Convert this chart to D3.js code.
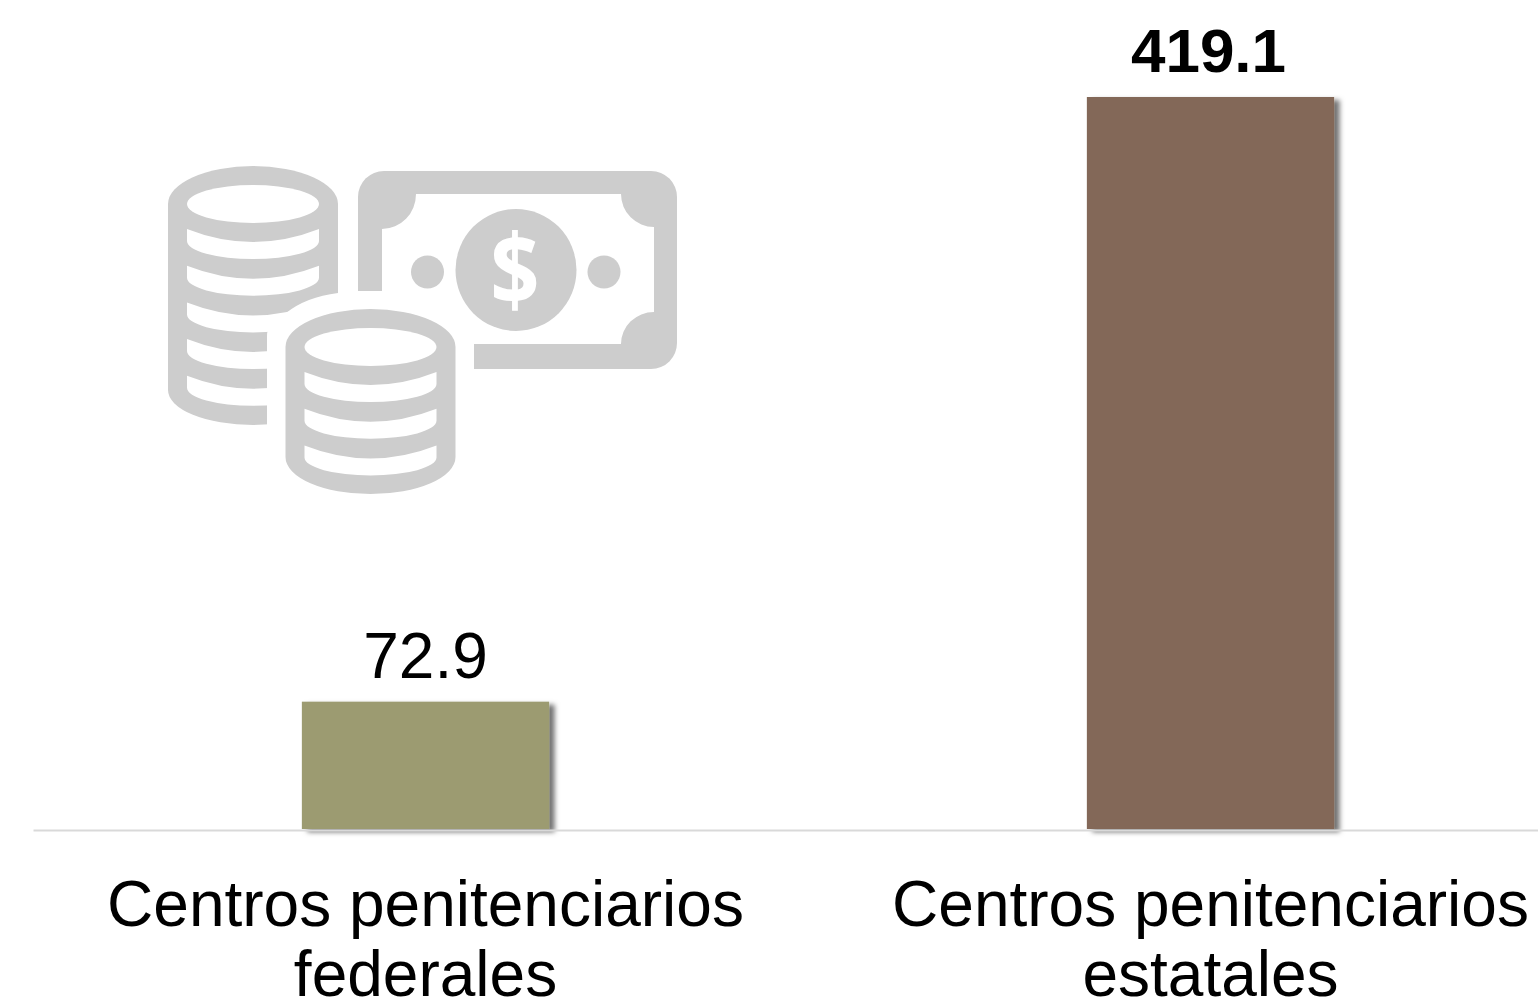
<!DOCTYPE html>
<html>
<head>
<meta charset="utf-8">
<script src="https://cdnjs.cloudflare.com/ajax/libs/d3/7.8.5/d3.min.js"></script>
<style>
  html, body { margin: 0; padding: 0; background: #fff; overflow: hidden; }
  text { font-family: "Liberation Sans", Arial, sans-serif; fill: #000; }
</style>
</head>
<body>
<svg width="1538" height="1000"></svg>
<script>
var categories = ["Centros penitenciarios federales", "Centros penitenciarios estatales"];
var categoryLines = [["Centros penitenciarios", "federales"], ["Centros penitenciarios", "estatales"]];
var values = [72.9, 419.1];
var valueLabels = ["72.9", "419.1"];
var barColors = ["#9c9b71", "#836858"];
var labelWeights = ["normal", "bold"];
var labelSizes = [64, 62];

var svg = d3.select("svg");
var baseline = 829;

var x = d3.scaleBand().domain(categories).range([33, 1603]).paddingInner(0.685).paddingOuter(0.3425);
var y = d3.scaleLinear().domain([0, 419.1]).range([baseline, 97]);

var defs = svg.append("defs");
var shadow = defs.append("filter").attr("id", "barShadow")
    .attr("x", "-10%").attr("y", "-10%").attr("width", "125%").attr("height", "125%");
shadow.append("feDropShadow").attr("dx", 5.5).attr("dy", 3).attr("stdDeviation", 2.4)
    .attr("flood-color", "#000").attr("flood-opacity", 0.55);
defs.append("filter").attr("id", "soft").append("feGaussianBlur").attr("stdDeviation", 0.7);

// icon behind the bars
var icon = svg.append("g").attr("filter", "url(#soft)");
var gray = "#cdcdcd";

// bank note
icon.append("rect").attr("x", 358).attr("y", 171).attr("width", 319).attr("height", 198).attr("rx", 26).attr("fill", gray);
icon.append("path").attr("fill", "#fff")
    .attr("d", "M416,194 H621 A33,33 0 0 0 654,227 V312 A33,32 0 0 0 621,344 H474 V375 H350 V291 H382 V229 A34,35 0 0 0 416,194 Z");
icon.append("ellipse").attr("cx", 516).attr("cy", 270).attr("rx", 60.5).attr("ry", 61).attr("fill", gray);
icon.append("circle").attr("cx", 427.5).attr("cy", 272).attr("r", 16.5).attr("fill", gray);
icon.append("circle").attr("cx", 604).attr("cy", 272).attr("r", 16.5).attr("fill", gray);
icon.append("text").attr("transform", "translate(515,305) scale(0.88,1)").attr("text-anchor", "middle")
    .style("font-family", "'Open Sans'").style("font-weight", "bold").style("font-size", "98px").style("fill", "#fff").text("$");

function coins(cx, top, yc, yb, bottom, bands) {
  var g = icon.append("g");
  var L = cx - 85, R = cx + 85;
  g.append("path").attr("fill", gray)
      .attr("d", "M" + L + "," + yc + " A85," + (yc - top) + " 0 0 1 " + R + "," + yc +
                 " V" + yb + " A85," + (bottom - yb) + " 0 0 1 " + L + "," + yb + " Z");
  g.append("ellipse").attr("cx", cx).attr("cy", yc).attr("rx", 66).attr("ry", 19).attr("fill", "#fff");
  for (var i = 0; i < bands; i++) {
    var t = yc + 25 + i * 36.7;
    g.append("path").attr("fill", "#fff")
        .attr("d", "M" + (cx - 66) + "," + t + " Q" + cx + "," + (t + 26) + " " + (cx + 66) + "," + t +
                   " V" + (t + 12) + " A66,18 0 0 1 " + (cx - 66) + "," + (t + 12) + " Z");
  }
}

coins(253, 166, 204, 390, 425, 5);
// gap the front stack leaves in the back one
icon.append("path").attr("fill", "#fff")
    .attr("d", "M267,430 V336 Q267,322 286,313 Q306,297 338,293 H345 V430 Z");
coins(370.5, 309, 347, 457, 494, 3);

// bars
svg.selectAll(".bar").data(values).enter().append("rect")
    .attr("class", "bar")
    .attr("x", function(d, i) { return x(categories[i]); })
    .attr("y", function(d) { return y(d); })
    .attr("width", x.bandwidth())
    .attr("height", function(d) { return baseline - y(d); })
    .attr("fill", function(d, i) { return barColors[i]; })
    .attr("filter", "url(#barShadow)");

// axis
var axis = svg.append("g").attr("transform", "translate(0," + (baseline + 1) + ")")
    .call(d3.axisBottom(x).tickSize(0).tickPadding(0));
axis.select(".domain").attr("stroke", "#d9d9d9").attr("stroke-width", 2);
axis.selectAll(".tick text").each(function(d, i) {
  var t = d3.select(this).text(null).attr("y", 0).attr("dy", null)
      .style("font-size", "64px").style("font-family", "'Liberation Sans'").attr("fill", "#000");
  categoryLines[i].forEach(function(line, j) {
    t.append("tspan").attr("x", 0).attr("y", 96 + j * 70).text(line);
  });
});

// value labels
svg.selectAll(".val").data(values).enter().append("text")
    .attr("class", "val")
    .attr("x", function(d, i) { return x(categories[i]) + x.bandwidth() / 2 - i * 2; })
    .attr("y", function(d, i) { return y(d) - 24 - i; })
    .attr("text-anchor", "middle")
    .style("font-size", function(d, i) { return labelSizes[i] + "px"; })
    .style("font-weight", function(d, i) { return labelWeights[i]; })
    .text(function(d, i) { return valueLabels[i]; });
</script>
</body>
</html>
